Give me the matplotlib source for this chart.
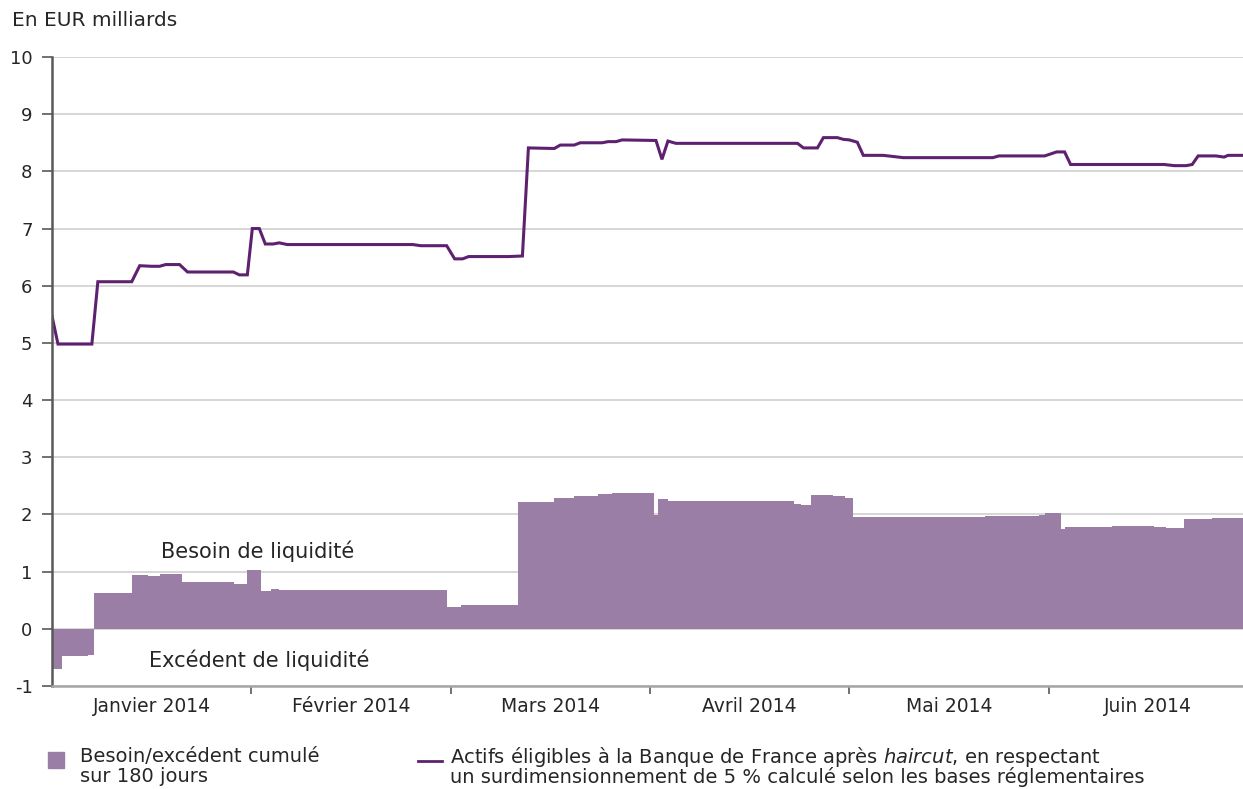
import numpy as np
import matplotlib.pyplot as plt
from matplotlib.patches import Rectangle
from matplotlib.lines import Line2D

# x positions are in months from 1 Jan 2014 (0 = start of January)
months = ["Janvier 2014", "Février 2014", "Mars 2014", "Avril 2014", "Mai 2014", "Juin 2014"]

# cumulative need / surplus over 180 days (step series: edges + values)
need_edges = [0.0, 0.05, 0.18, 0.21, 0.40, 0.48, 0.54, 0.65, 0.915, 0.98, 1.05, 1.10, 1.14,
              1.98, 2.05, 2.12, 2.28, 2.34, 2.52, 2.62, 2.74, 2.81, 3.02, 3.04, 3.09, 3.72,
              3.76, 3.81, 3.92, 3.98, 4.02, 4.22, 4.68, 4.95, 4.98, 5.06, 5.08, 5.32, 5.53,
              5.59, 5.68, 5.82, 5.98]
need_values = [-0.70, -0.48, -0.455, 0.635, 0.944, 0.915, 0.956, 0.816, 0.787, 1.02, 0.67, 0.705,
               0.687, 0.39, 0.42, 0.41, 0.42, 2.22, 2.28, 2.33, 2.35, 2.37, 1.99, 2.27, 2.23,
               2.19, 2.17, 2.34, 2.32, 2.28, 1.96, 1.95, 1.98, 1.99, 2.03, 1.75, 1.78, 1.79,
               1.78, 1.77, 1.92, 1.93]

# eligible assets after haircut
assets_x = [0.00, 0.03, 0.20, 0.23, 0.40, 0.44, 0.50, 0.54, 0.57, 0.64, 0.68, 0.91, 0.94, 0.98,
            1.005, 1.04, 1.07, 1.11, 1.14, 1.18, 1.81, 1.85, 1.98, 2.02, 2.06, 2.09, 2.29, 2.36,
            2.39, 2.52, 2.55, 2.62, 2.65, 2.76, 2.79, 2.83, 2.86, 3.03, 3.06, 3.09, 3.13, 3.74,
            3.77, 3.84, 3.87, 3.94, 3.97, 4.00, 4.04, 4.07, 4.17, 4.27, 4.72, 4.75, 4.98, 5.04,
            5.08, 5.11, 5.58, 5.63, 5.69, 5.72, 5.75, 5.84, 5.88, 5.90, 5.98]
assets_y = [5.47, 4.98, 4.98, 6.07, 6.07, 6.35, 6.34, 6.34, 6.37, 6.37, 6.24, 6.24, 6.19, 6.19,
            7.00, 7.00, 6.73, 6.73, 6.75, 6.72, 6.72, 6.70, 6.70, 6.47, 6.47, 6.51, 6.51, 6.52,
            8.41, 8.40, 8.46, 8.46, 8.50, 8.50, 8.52, 8.52, 8.55, 8.54, 8.21, 8.53, 8.49, 8.49,
            8.41, 8.41, 8.59, 8.59, 8.56, 8.55, 8.51, 8.28, 8.28, 8.24, 8.24, 8.27, 8.27, 8.34,
            8.34, 8.12, 8.12, 8.10, 8.10, 8.12, 8.27, 8.27, 8.25, 8.28, 8.28]

bar_color = "#9a7ea6"
line_color = "#5e2170"
text_color = "#262626"

plt.rcParams['font.family'] = ['DejaVu Sans']
plt.rcParams['mathtext.fontset'] = 'dejavusans'

fig = plt.figure(figsize=(12.43, 7.89), dpi=100)
ax = fig.add_axes([52 / 1243, 1 - 686 / 789, 1191 / 1243, 629 / 789])

ax.set_axisbelow(True)
ax.grid(axis='y', color="#cfcfcf", linewidth=1.2)
ax.stairs(need_values, need_edges, fill=True, color=bar_color, baseline=0)
ax.plot(assets_x, assets_y, color=line_color, linewidth=2.2, solid_joinstyle='miter')

ax.set_xlim(0, 5.975)
ax.set_ylim(-1, 10)
ax.set_yticks(range(-1, 11))
ax.set_yticklabels([str(v) for v in range(-1, 11)], fontsize=13, color=text_color)
ax.tick_params(axis='y', direction='out', length=7, width=1.2, color="#595959", pad=7)

ax.set_xticks([1, 2, 3, 4, 5])
ax.set_xticklabels([])
ax.tick_params(axis='x', which='major', direction='out', length=6, width=1.2, color="#595959")
ax.set_xticks(np.arange(len(months)) + 0.5, minor=True)
ax.set_xticklabels(months, minor=True, fontsize=13.5, color=text_color)
ax.tick_params(axis='x', which='minor', length=0, pad=8)

for s in ["top", "right"]:
    ax.spines[s].set_visible(False)
ax.spines["left"].set_color("#595959")
ax.spines["left"].set_linewidth(1.8)
ax.spines["bottom"].set_color("#a6a6a6")
ax.spines["bottom"].set_linewidth(1.8)

ax.text(1.03, 1.36, "Besoin de liquidité", ha='center', va='center', fontsize=15, color=text_color)
ax.text(1.04, -0.55, "Excédent de liquidité", ha='center', va='center', fontsize=15, color=text_color)

fig.text(12 / 1243, 1 - 21 / 789, "En EUR milliards", ha='left', va='center', fontsize=14.5, color=text_color)

# legend
fig.patches.append(Rectangle((48 / 1243, 1 - 768 / 789), 16 / 1243, 16 / 789,
                             transform=fig.transFigure, color=bar_color))
fig.text(80 / 1243, 1 - 757 / 789, "Besoin/excédent cumulé", ha='left', va='center',
         fontsize=14, color=text_color)
fig.text(80 / 1243, 1 - 777 / 789, "sur 180 jours", ha='left', va='center',
         fontsize=14, color=text_color)
fig.lines.append(Line2D([418 / 1243, 442 / 1243], [1 - 761 / 789, 1 - 761 / 789],
                        transform=fig.transFigure, color=line_color, linewidth=2))
fig.text(450 / 1243, 1 - 757 / 789,
         "Actifs éligibles à la Banque de France après $\\mathit{haircut}$, en respectant",
         ha='left', va='center', fontsize=14, color=text_color)
fig.text(450 / 1243, 1 - 777 / 789,
         "un surdimensionnement de 5 % calculé selon les bases réglementaires",
         ha='left', va='center', fontsize=14, color=text_color)

fig.savefig("out.png", dpi=100)
